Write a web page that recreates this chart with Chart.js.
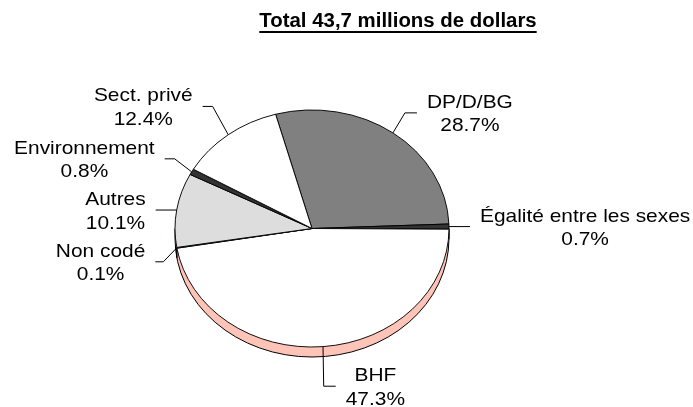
<!DOCTYPE html>
<html lang="fr">
<head>
<meta charset="utf-8">
<title>Total 43,7 millions de dollars</title>
<script src="https://cdn.jsdelivr.net/npm/chart.js@4.4.1/dist/chart.umd.min.js"></script>
<style>
  html, body { margin: 0; padding: 0; background: #fff; }
  #wrap { position: relative; width: 693px; height: 407px; }
</style>
</head>
<body>
<div id="wrap"><canvas id="pieChart" width="693" height="407"></canvas></div>
<script>
// data, in drawing order (clockwise from the top)
const categories = ["DP/D/BG", "Égalité entre les sexes", "BHF", "Non codé", "Autres", "Environnement", "Sect. privé"];
const shares = [28.7, 0.7, 47.3, 0.1, 10.1, 0.8, 12.4];
const titleText = "Total 43,7 millions de dollars";

// styles
const sliceColors = ["#808080", "#333333", "#FFFFFF", "#969696", "#DDDDDD", "#333333", "#FFFFFF"];
const sideColor = "#FFC4B8";
const tilt = 0.865;   // vertical squash of the disc
const depth = 10;     // thickness of the disc in px
const labelFont = "19px 'Liberation Sans', Arial, sans-serif";
const labelStretch = 1.1;
const lineHeight = 23.5;

// leader lines: elbow offset from the slice edge, then a short horizontal run
const leaders = [
  { dx: 12, dy: -20, run: 12 },
  { dx: 0, dy: 0, run: 21 },
  { dx: 0.7, dy: 39.6, run: 12 },
  { dx: -13.5, dy: 14, run: 8 },
  { dx: 0, dy: 0, run: 21 },
  { dx: -17, dy: -13, run: 10 },
  { dx: -15.6, dy: -28.3, run: 10 }
];

const tiltPlugin = {
  id: "tilt",
  beforeDatasetsDraw(chart) {
    const ctx = chart.ctx;
    const arcs = chart.getDatasetMeta(0).data;
    const cx = arcs[0].x, cy = arcs[0].y, r = arcs[0].outerRadius;

    // side wall, stacked copies of the slices
    ctx.save();
    ctx.fillStyle = sideColor;
    for (let d = depth; d >= 1; d--) {
      ctx.save();
      ctx.translate(cx, cy + d);
      ctx.scale(1, tilt);
      arcs.forEach((a) => {
        ctx.beginPath();
        ctx.moveTo(0, 0);
        ctx.arc(0, 0, r, a.startAngle, a.endAngle);
        ctx.closePath();
        ctx.fill();
      });
      ctx.restore();
    }

    ctx.strokeStyle = "#000";
    ctx.lineWidth = 1;
    ctx.beginPath();
    ctx.ellipse(cx, cy + depth, r, r * tilt, 0, 0, Math.PI);
    ctx.moveTo(cx + r, cy);
    ctx.lineTo(cx + r, cy + depth);
    ctx.moveTo(cx - r, cy);
    ctx.lineTo(cx - r, cy + depth);
    arcs.forEach((a) => {
      const s = Math.sin(a.startAngle);
      if (s > 0) {
        const x = cx + r * Math.cos(a.startAngle);
        const y = cy + r * tilt * s;
        ctx.moveTo(x, y);
        ctx.lineTo(x, y + depth);
      }
    });
    ctx.stroke();
    ctx.restore();

    // squash the top face
    ctx.save();
    ctx.translate(cx, cy);
    ctx.scale(1, tilt);
    ctx.translate(-cx, -cy);
  },
  afterDatasetsDraw(chart) {
    chart.ctx.restore();
  }
};

function drawBlock(ctx, lines, x, y, side) {
  ctx.font = labelFont;
  const w = Math.max(...lines.map((l) => ctx.measureText(l).width)) * labelStretch;
  const bx = side > 0 ? x + w / 2 : x - w / 2;
  lines.forEach((l, i) => {
    const ly = y + (i - (lines.length - 1) / 2) * lineHeight + 6.8;
    ctx.save();
    ctx.translate(bx, ly);
    ctx.scale(labelStretch, 1);
    ctx.textAlign = "center";
    ctx.textBaseline = "alphabetic";
    ctx.fillText(l, 0, 0);
    ctx.restore();
  });
}

const labelPlugin = {
  id: "labels",
  afterDraw(chart) {
    const ctx = chart.ctx;
    const arcs = chart.getDatasetMeta(0).data;
    const cx = arcs[0].x, cy = arcs[0].y, r = arcs[0].outerRadius;

    ctx.save();
    ctx.fillStyle = "#000";
    ctx.strokeStyle = "#000";
    ctx.lineWidth = 1;

    arcs.forEach((a, i) => {
      const mid = (a.startAngle + a.endAngle) / 2;
      const ex = cx + r * Math.cos(mid);
      const ey = cy + r * tilt * Math.sin(mid);
      const side = ex >= cx ? 1 : -1;
      const L = leaders[i];
      const kx = ex + L.dx, ky = ey + L.dy;
      const endX = kx + side * L.run;
      ctx.beginPath();
      ctx.moveTo(ex, ey);
      ctx.lineTo(kx, ky);
      ctx.lineTo(endX, ky);
      ctx.stroke();
      const lines = [categories[i], shares[i].toFixed(1) + "%"];
      drawBlock(ctx, lines, endX + side * 10, ky, side);
    });

    // title, bold and underlined
    ctx.font = "bold 20px 'Liberation Sans', Arial, sans-serif";
    ctx.textAlign = "center";
    ctx.textBaseline = "alphabetic";
    const tx = 398;
    const tw = ctx.measureText(titleText).width * 1.02;
    ctx.save();
    ctx.translate(tx, 27);
    ctx.scale(1.02, 1);
    ctx.fillText(titleText, 0, 0);
    ctx.restore();
    ctx.fillRect(tx - tw / 2, 31, tw, 2);
    ctx.restore();
  }
};

new Chart(document.getElementById("pieChart"), {
  type: "pie",
  data: {
    labels: categories,
    datasets: [{
      data: shares,
      backgroundColor: sliceColors,
      borderColor: "#000000",
      borderWidth: 1
    }]
  },
  options: {
    responsive: false,
    devicePixelRatio: 1,
    animation: false,
    events: [],
    rotation: -15.4,
    radius: 137,
    layout: { padding: { left: 0, right: 69, top: 50, bottom: 0 } },
    plugins: {
      legend: { display: false },
      tooltip: { enabled: false }
    }
  },
  plugins: [tiltPlugin, labelPlugin]
});
</script>
</body>
</html>
